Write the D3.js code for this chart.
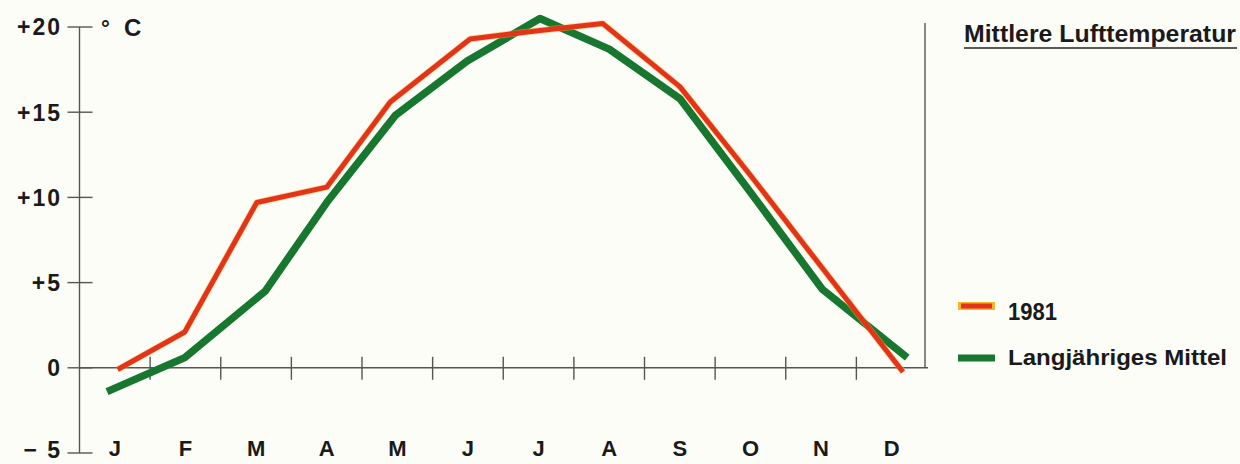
<!DOCTYPE html>
<html>
<head>
<meta charset="utf-8">
<script src="https://cdn.jsdelivr.net/npm/d3@7"></script>
<style>
  html, body { margin: 0; padding: 0; background: #fdfdf8; }
  svg { display: block; }
  text { font-family: "Liberation Sans", Arial, Helvetica, sans-serif; font-weight: bold; fill: #1a1a1a; }
</style>
</head>
<body>
<svg id="chart" width="1240" height="464"></svg>
<script>
// ---- data ----
const months = ["J", "F", "M", "A", "M", "J", "J", "A", "S", "O", "N", "D"];
const yTicks = [-5, 0, 5, 10, 15, 20];
const yTickLabels = ["\u2212 5", "0", "+5", "+10", "+15", "+20"];
// position of each reading within the year, in months (0 = start of January)
const pos1981 = [0.54, 1.49, 2.51, 3.5, 4.4, 5.53, 6.52, 7.41, 8.5, 9.5, 10.49, 11.66];
const temp1981 = [-0.1, 2.1, 9.7, 10.6, 15.6, 19.3, 19.8, 20.2, 16.5, 11.3, 6.0, -0.25];
const posMean = [0.39, 1.49, 2.63, 3.5, 4.47, 5.49, 6.52, 7.5, 8.5, 9.5, 10.52, 11.72];
const tempMean = [-1.4, 0.6, 4.5, 9.7, 14.8, 18.0, 20.5, 18.7, 15.8, 10.3, 4.6, 0.6];
const legendLabels = ["1981", "Langjähriges Mittel"];
const title = "Mittlere Lufttemperatur";
const unitDeg = "°", unitC = "C";

// ---- layout ----
const svg = d3.select("#chart");
const x = d3.scaleLinear().domain([0, 12]).range([79.5, 927]);
const y = d3.scaleLinear().domain([-5, 20]).range([453, 27]);
const axisColor = "#555";
const red = "#e4331b", redHalo = "#f6b52a", green = "#17772f";

// y axis
svg.append("line").attr("x1", x(0)).attr("x2", x(0)).attr("y1", y(20)).attr("y2", y(-5))
  .attr("stroke", axisColor).attr("stroke-width", 1.4);
svg.selectAll(".ytick").data(yTicks).enter().append("line")
  .attr("x1", x(0) - 12).attr("x2", x(0) + 13)
  .attr("y1", d => y(d)).attr("y2", d => y(d))
  .attr("stroke", axisColor).attr("stroke-width", 1.4);
svg.selectAll(".ylab").data(yTicks).enter().append("text")
  .attr("x", 62).attr("y", d => Math.min(y(d) + 8.3, 458))
  .attr("text-anchor", "end").attr("font-size", 23).attr("letter-spacing", 2)
  .text((d, i) => yTickLabels[i]);
svg.append("text").attr("x", 101).attr("y", 36).attr("font-size", 22).text(unitDeg);
svg.append("text").attr("x", 124).attr("y", 36).attr("font-size", 24).text(unitC);

// x axis (zero line)
svg.append("line").attr("x1", x(0)).attr("x2", x(12) + 1).attr("y1", y(0)).attr("y2", y(0))
  .attr("stroke", axisColor).attr("stroke-width", 1.4);
svg.selectAll(".xtick").data(d3.range(1, 12)).enter().append("line")
  .attr("x1", d => x(d)).attr("x2", d => x(d))
  .attr("y1", y(0) - 11).attr("y2", y(0) + 12)
  .attr("stroke", axisColor).attr("stroke-width", 1.4);
svg.selectAll(".xlab").data(months).enter().append("text")
  .attr("x", (d, i) => x(i + 0.5)).attr("y", 456)
  .attr("text-anchor", "middle").attr("font-size", 22)
  .text(d => d);

// right frame line
svg.append("line").attr("x1", x(12) - 2).attr("x2", x(12) - 2).attr("y1", 23).attr("y2", y(0))
  .attr("stroke", axisColor).attr("stroke-width", 1.4);

// lines
const line = d3.line().x(d => x(d[0])).y(d => y(d[1]));
const meanData = posMean.map((p, i) => [p, tempMean[i]]);
const data1981 = pos1981.map((p, i) => [p, temp1981[i]]);

svg.append("path").datum(meanData).attr("d", line)
  .attr("fill", "none").attr("stroke", green).attr("stroke-width", 7.5)
  .attr("stroke-linejoin", "round");
svg.append("path").datum(data1981).attr("d", line)
  .attr("fill", "none").attr("stroke", redHalo).attr("stroke-width", 6.5).attr("stroke-opacity", 0.5)
  .attr("stroke-linejoin", "round");
svg.append("path").datum(data1981).attr("d", line)
  .attr("fill", "none").attr("stroke", red).attr("stroke-width", 5)
  .attr("stroke-linejoin", "round");

// title
svg.append("text").attr("x", 964).attr("y", 42).attr("font-size", 23)
  .attr("textLength", 272).attr("lengthAdjust", "spacingAndGlyphs").text(title);
svg.append("line").attr("x1", 964).attr("x2", 1237).attr("y1", 48).attr("y2", 48)
  .attr("stroke", "#222").attr("stroke-width", 1.6);

// legend
svg.append("line").attr("x1", 958).attr("x2", 995).attr("y1", 306).attr("y2", 306)
  .attr("stroke", redHalo).attr("stroke-width", 8);
svg.append("line").attr("x1", 961).attr("x2", 992).attr("y1", 306).attr("y2", 306)
  .attr("stroke", red).attr("stroke-width", 5);
svg.append("line").attr("x1", 958).attr("x2", 995).attr("y1", 358).attr("y2", 358)
  .attr("stroke", green).attr("stroke-width", 7);
svg.append("text").attr("x", 1008).attr("y", 320).attr("font-size", 23)
  .attr("textLength", 49).attr("lengthAdjust", "spacingAndGlyphs").text(legendLabels[0]);
svg.append("text").attr("x", 1008).attr("y", 365).attr("font-size", 22)
  .attr("textLength", 219).attr("lengthAdjust", "spacingAndGlyphs").text(legendLabels[1]);
</script>
</body>
</html>
